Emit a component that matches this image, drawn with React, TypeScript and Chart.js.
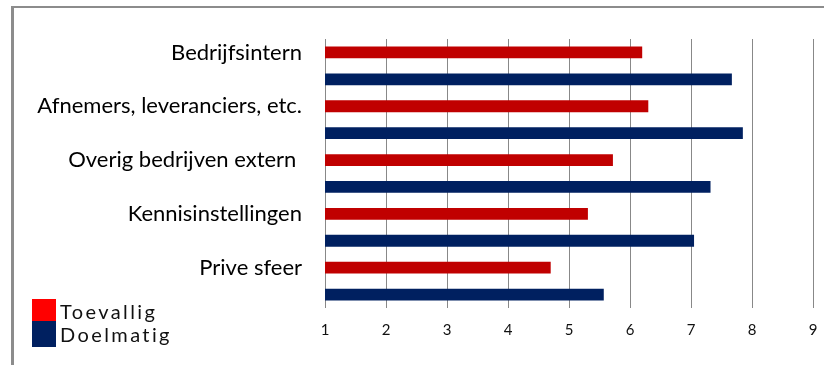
import React, { useEffect, useRef } from "react";
import { Chart, registerables } from "chart.js";

Chart.register(...registerables);

// Category rows (each has a "Toevallig" and a "Doelmatig" bar)
const categories = [
  "Bedrijfsintern",
  "Afnemers, leveranciers, etc.",
  "Overig bedrijven extern ",
  "Kennisinstellingen",
  "Prive sfeer",
];
const toevallig = [6.2, 6.3, 5.72, 5.31, 4.7];
const doelmatig = [7.67, 7.85, 7.32, 7.05, 5.57];
const xTicks = [1, 2, 3, 4, 5, 6, 7, 8, 9];
const seriesNames = ["Toevallig", "Doelmatig"];

const barColors = ["#C00000", "#002060"];
const legendColors = ["#FF0000", "#002060"];

// Each category occupies two rows: the red bar row carries the label, the blue row is blank
const rowLabels: string[] = [];
const redRows: (number | null)[] = [];
const blueRows: (number | null)[] = [];
categories.forEach((c, i) => {
  rowLabels.push(c, "");
  redRows.push(toevallig[i], null);
  blueRows.push(null, doelmatig[i]);
});

const framePlugin = {
  id: "frame",
  beforeDraw(chart: any) {
    const ctx = chart.ctx;
    ctx.save();
    ctx.fillStyle = "#ffffff";
    ctx.fillRect(0, 0, chart.width, chart.height);
    ctx.fillStyle = "#8c8c8c";
    ctx.fillRect(11, 6, chart.width - 11, 2);
    ctx.fillRect(11, 6, 3, chart.height - 6);
    ctx.restore();
  },
};

const sideLegendPlugin = {
  id: "sideLegend",
  afterDraw(chart: any) {
    const ctx = chart.ctx;
    ctx.save();
    const x = 32;
    const boxes = [
      { y: 299, h: 22 },
      { y: 321, h: 26 },
    ];
    const baselines = [319, 342];
    ctx.font = "20px Lato";
    ctx.textBaseline = "alphabetic";
    ctx.textAlign = "left";
    (ctx as any).letterSpacing = "2.4px";
    seriesNames.forEach((name, i) => {
      ctx.fillStyle = legendColors[i];
      ctx.fillRect(x, boxes[i].y, 24, boxes[i].h);
      ctx.fillStyle = "#111111";
      ctx.fillText(name, 60, baselines[i]);
    });
    ctx.restore();
  },
};

export default function App() {
  const canvasRef = useRef<HTMLCanvasElement | null>(null);

  useEffect(() => {
    const canvas = canvasRef.current;
    if (!canvas) return;
    const chart = new Chart(canvas, {
      type: "bar",
      data: {
        labels: rowLabels,
        datasets: [
          {
            label: seriesNames[0],
            data: redRows,
            backgroundColor: barColors[0],
            grouped: false,
            barPercentage: 0.44,
            categoryPercentage: 1,
          },
          {
            label: seriesNames[1],
            data: blueRows,
            backgroundColor: barColors[1],
            grouped: false,
            barPercentage: 0.44,
            categoryPercentage: 1,
          },
        ],
      },
      options: {
        indexAxis: "y",
        animation: false,
        responsive: false,
        maintainAspectRatio: false,
        layout: { padding: { top: 39, right: 11, left: 0, bottom: 0 } },
        plugins: {
          legend: { display: false },
          tooltip: { enabled: false },
        },
        scales: {
          x: {
            type: "linear",
            min: 1,
            max: 9,
            afterBuildTicks: (scale: any) => {
              scale.ticks = xTicks.map((v) => ({ value: v }));
            },
            afterFit: (scale: any) => {
              scale.height = 57;
              scale.paddingLeft = 0;
              scale.paddingRight = 0;
            },
            grid: {
              color: "#888888",
              lineWidth: 1,
              drawTicks: false,
            },
            border: { display: false },
            ticks: {
              color: "#111111",
              font: { family: "Lato", size: 15 },
              padding: 13,
            },
          },
          y: {
            type: "category",
            afterFit: (scale: any) => {
              scale.width = 325;
            },
            grid: { display: false, drawTicks: false },
            border: { display: false },
            ticks: {
              color: "#000000",
              font: { family: "Lato", size: 22 },
              padding: 23,
              autoSkip: false,
            },
          },
        },
      },
      plugins: [framePlugin, sideLegendPlugin],
    });
    return () => chart.destroy();
  }, []);

  return (
    <div style={{ position: "absolute", left: 0, top: 0, width: 824, height: 365 }}>
      <canvas ref={canvasRef} width={824} height={365} />
    </div>
  );
}
